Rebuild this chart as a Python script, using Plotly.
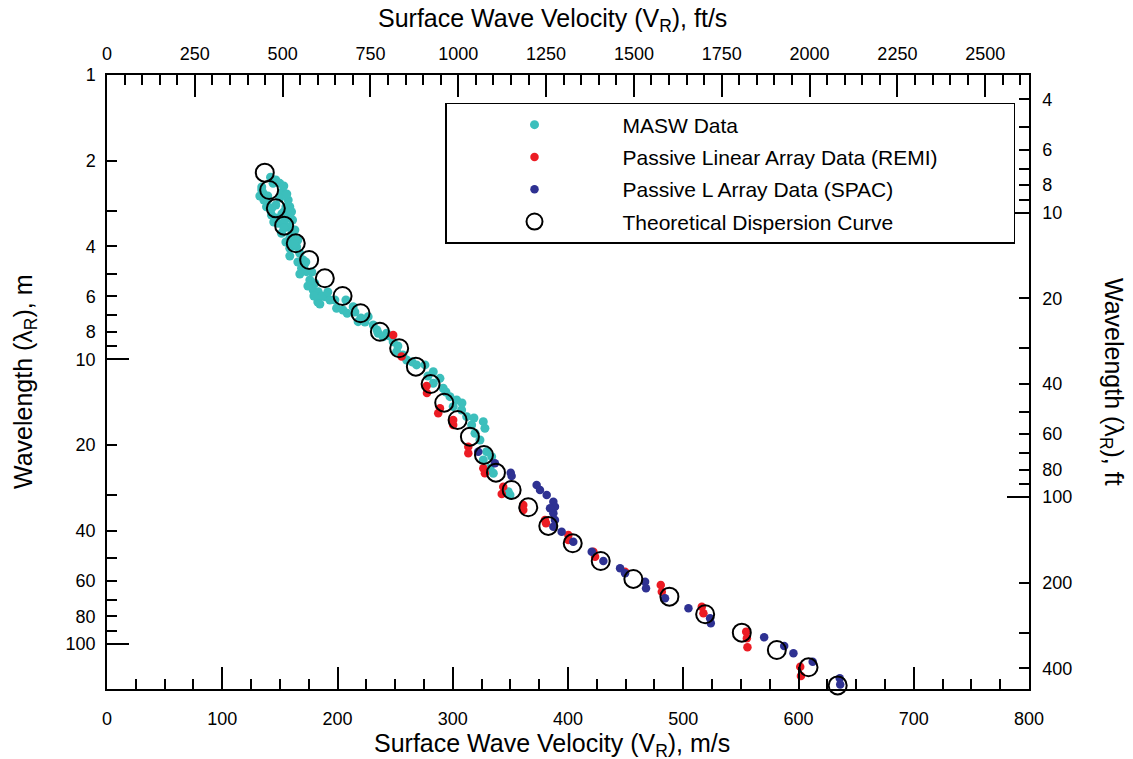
import numpy as np
import plotly.graph_objects as go

# ---------------- data ----------------
masw_v = [141.9, 144.1, 149.9, 152.3, 135.5, 136.1, 157.2, 158.6, 160.1, 138.4, 142.7, 161.0, 148.5,
          157.2, 151.4, 158.6, 163.0, 164.5, 167.3, 158.6, 170.2, 168.8, 173.1, 176.0, 180.3, 178.9,
          183.2, 189.0, 199.2, 208.4, 193.4, 207.3, 213.6, 217.9, 226.6, 231.0, 242.6, 248.3, 239.6,
          235.3, 251.3, 260.0, 268.6, 275.9, 283.1, 288.9, 283.1, 291.7, 297.6, 303.4, 300.4, 307.7,
          312.1, 316.4, 326.5, 327.9, 319.3, 323.6, 329.4, 326.5, 333.8, 332.3, 335.2, 348.2, 349.7,
          134.3, 139.5, 146.5, 153.4, 144.7, 154.3, 161.2, 165.6, 172.5, 177.7, 182.9, 186.4, 204.7,
          220.3, 234.2, 252.4, 256.7, 264.6, 278.5, 294.1, 308.0, 318.4,
          146.5, 153.4, 156.0, 134.3, 139.5, 149.9, 155.2, 132.6, 143.0, 151.7, 158.6, 146.5, 153.4,
          160.4, 155.2, 162.1, 158.6, 165.6, 170.8, 167.3, 174.3, 179.5, 184.7, 191.6, 197.7, 215.1,
          223.8, 245.5]
masw_wl = [2.288, 2.403, 2.403, 2.572, 2.605, 2.750, 2.750, 2.904, 3.024, 2.904, 3.105, 3.233, 3.321,
           3.413, 3.601, 3.750, 3.506, 4.013, 4.234, 4.065, 4.470, 4.780, 4.913, 5.256, 5.397, 5.699,
           5.777, 6.016, 6.607, 6.879, 6.180, 6.180, 6.523, 7.364, 7.072, 7.563, 8.089, 8.660, 8.317,
           8.089, 9.389, 10.04, 10.45, 10.45, 11.04, 11.65, 12.12, 12.62, 13.51, 13.88, 14.65, 15.05,
           15.89, 16.99, 16.54, 17.45, 18.17, 19.19, 21.09, 22.56, 21.96, 24.12, 25.12, 29.15, 29.94,
           2.475, 2.662, 2.863, 3.030, 3.286, 3.233, 3.681, 3.802, 4.543, 4.925, 6.280, 5.981, 6.700,
           7.147, 7.878, 8.966, 9.642, 10.20, 11.43, 13.01, 14.22, 16.06,
           2.339, 2.455, 2.620, 2.536, 2.750, 2.706, 2.911, 2.662, 2.935, 3.080, 3.130, 3.182, 3.450,
           3.564, 3.864, 3.927, 4.327, 4.543, 4.692, 5.006, 5.515, 5.981, 6.381, 5.791, 6.180, 6.808,
           7.381, 8.268]

remi_v = [248.3, 255.6, 277.3, 277.6, 288.9, 287.4, 300.4, 300.4, 313.5, 313.5, 326.5, 327.9, 343.8,
          342.5, 361.2, 361.2, 380.0, 380.9, 400.3, 400.3, 422.0, 423.5, 449.5, 480.5, 481.4, 516.1,
          517.5, 554.6, 555.2, 555.7, 601.5, 602.1]
remi_wl = [8.20, 9.77, 12.39, 13.12, 14.84, 15.46, 16.32, 16.99, 20.25, 21.36, 24.12, 25.12, 28.00,
           29.70, 32.46, 33.81, 36.66, 37.64, 41.40, 43.10, 47.38, 49.34, 55.70, 62.03, 65.50, 73.94,
           78.01, 90.51, 95.50, 102.7, 120.2, 129.6]

spac_v = [322.1, 336.6, 350.3, 351.1, 372.8, 375.7, 381.5, 387.3, 388.7, 384.4, 387.3, 388.7, 387.3,
          394.5, 404.6, 420.6, 430.7, 445.2, 449.5, 466.9, 467.7, 484.2, 504.5, 523.3, 523.9, 570.2,
          587.6, 595.6, 612.3, 635.8, 636.2]
spac_wl = [21.09, 23.17, 25.00, 25.67, 27.62, 28.75, 29.94, 31.61, 32.91, 33.34, 34.72, 36.66, 38.70,
           40.30, 43.70, 47.38, 51.08, 54.20, 56.44, 60.39, 63.71, 69.09, 74.90, 81.21, 84.56, 94.71,
           101.6, 107.8, 115.4, 132.0, 138.8]

theo_v = [136.9, 140.7, 146.5, 153.7, 163.8, 175.4, 189.0, 204.4, 220.0, 236.8, 253.5, 268.0, 280.8,
          292.6, 304.2, 314.9, 327.1, 337.5, 351.1, 365.5, 382.9, 404.1, 428.4, 456.7, 488.0, 519.0,
          550.8, 581.2, 608.7, 634.0]
theo_wl = [2.205, 2.536, 2.942, 3.386, 3.905, 4.470, 5.184, 5.981, 6.88, 7.99, 9.13, 10.60, 12.20,
           14.19, 16.32, 18.68, 21.66, 25.00, 28.75, 33.07, 38.48, 44.28, 51.09, 59.09, 68.21, 78.64,
           91.26, 105.0, 120.8, 139.9]

# axis settings
M_TO_FT = 3.28084
x_range_ms = [0, 800]
wl_min_m, wl_max_m = 1.0, 144.0

left_tickvals = [1, 2, 3, 4, 5, 6, 7, 8, 9, 10, 20, 30, 40, 50, 60, 70, 80, 90, 100]
left_ticktext = ['1', '2', '', '4', '', '6', '', '8', '', '10', '20', '', '40', '', '60', '', '80', '', '100']
right_tickvals = [4, 5, 6, 7, 8, 9, 10, 20, 30, 40, 50, 60, 70, 80, 90, 100, 200, 300, 400]
right_ticktext = ['4', '', '6', '', '8', '', '10', '20', '', '40', '', '60', '', '80', '', '100', '200', '', '400']
long_ticks = [10, 100]

FONT = 'Liberation Sans, Arial, Helvetica, sans-serif'
TEAL = '#3CBFBC'
RED = '#EC1C24'
BLUE = '#2E3192'

fig = go.Figure()
fig.add_trace(go.Scatter(x=masw_v, y=masw_wl, mode='markers', name='MASW Data',
                         marker=dict(color=TEAL, size=9), cliponaxis=False, legendgroup='g1'))
fig.add_trace(go.Scatter(x=remi_v, y=remi_wl, mode='markers', name='Passive Linear Array Data (REMI)' + '\u00a0' * 12,
                         marker=dict(color=RED, size=8.5), cliponaxis=False, legendgroup='g2'))
fig.add_trace(go.Scatter(x=spac_v, y=spac_wl, mode='markers', name='Passive L Array Data (SPAC)',
                         marker=dict(color=BLUE, size=8.5), cliponaxis=False, legendgroup='g3'))
fig.add_trace(go.Scatter(x=theo_v, y=theo_wl, mode='markers', name='Theoretical Dispersion Curve',
                         marker=dict(color='rgba(0,0,0,0)', size=18, line=dict(color='black', width=2)),
                         cliponaxis=False, legendgroup='g4'))
# empty helper traces so the secondary axes exist
for xa, ya in [('x2', 'y2'), ('x', 'y3'), ('x', 'y4')]:
    fig.add_trace(go.Scatter(x=[], y=[], xaxis=xa, yaxis=ya, showlegend=False, hoverinfo='skip'))

tickfont = dict(family=FONT, size=18, color='black')
common = dict(showgrid=False, zeroline=False, showline=True, linecolor='black', linewidth=1.5,
              ticks='inside', tickcolor='black', tickwidth=1.5, tickfont=tickfont)

log_m = [np.log10(wl_max_m), np.log10(wl_min_m)]
log_ft = [np.log10(wl_max_m * M_TO_FT), np.log10(wl_min_m * M_TO_FT)]

fig.update_layout(
    width=1125, height=751,
    margin=dict(l=99, r=104, t=67, b=70),
    plot_bgcolor='white', paper_bgcolor='white',
    font=dict(family=FONT, color='black'),
    xaxis=dict(range=x_range_ms, tickmode='linear', tick0=0, dtick=100, ticklen=22,
               minor=dict(dtick=25, ticks='inside', ticklen=10, tickwidth=1.5, tickcolor='black'),
               ticklabelstandoff=13, **common),
    xaxis2=dict(range=[x_range_ms[0] * M_TO_FT, x_range_ms[1] * M_TO_FT], overlaying='x', side='top',
                anchor='y', tickmode='linear', tick0=0, dtick=250, ticklen=22,
                minor=dict(dtick=50, ticks='inside', ticklen=10, tickwidth=1.5, tickcolor='black'),
                ticklabelstandoff=6, **common),
    yaxis=dict(type='log', range=log_m, tickmode='array', tickvals=left_tickvals, ticktext=left_ticktext,
               ticklen=10, ticklabelstandoff=6, **common),
    yaxis2=dict(type='log', range=log_ft, overlaying='y', side='right', anchor='x', tickmode='array',
                tickvals=right_tickvals, ticktext=right_ticktext, ticklen=10, ticklabelstandoff=8, **common),
    yaxis3=dict(type='log', range=log_m, overlaying='y', side='left', anchor='x', tickmode='array',
                tickvals=long_ticks, ticks='inside', ticklen=22, tickwidth=1.5, tickcolor='black',
                showticklabels=False, showgrid=False, zeroline=False, showline=False),
    yaxis4=dict(type='log', range=log_ft, overlaying='y', side='right', anchor='x', tickmode='array',
                tickvals=long_ticks, ticks='inside', ticklen=22, tickwidth=1.5, tickcolor='black',
                showticklabels=False, showgrid=False, zeroline=False, showline=False),
    legend=dict(x=0.3666, y=0.9544, xanchor='left', yanchor='top', bgcolor='white',
                bordercolor='black', borderwidth=1.5, font=dict(family=FONT, size=21, color='black'),
                itemwidth=166, tracegroupgap=2, traceorder='grouped'),
    showlegend=True,
)

title_font = dict(family=FONT, size=25, color='black')
fig.add_annotation(text='Surface Wave Velocity (V<sub>R</sub>), m/s', xref='paper', yref='paper',
                   x=0.483, y=-0.0912, xanchor='center', yanchor='middle', showarrow=False, font=title_font)
fig.add_annotation(text='Surface Wave Velocity (V<sub>R</sub>), ft/s', xref='paper', yref='paper',
                   x=0.483, y=1.0896, xanchor='center', yanchor='middle', showarrow=False, font=title_font)
fig.add_annotation(text='Wavelength (λ<sub>R</sub>), m', xref='paper', yref='paper',
                   x=-0.0889, y=0.5, xanchor='center', yanchor='middle', textangle=-90, showarrow=False,
                   font=title_font)
fig.add_annotation(text='Wavelength (λ<sub>R</sub>), ft', xref='paper', yref='paper',
                   x=(1112 - 107) / 922, y=0.5, xanchor='center', yanchor='middle', textangle=90,
                   showarrow=False, font=title_font)

fig.write_html('out.html')
